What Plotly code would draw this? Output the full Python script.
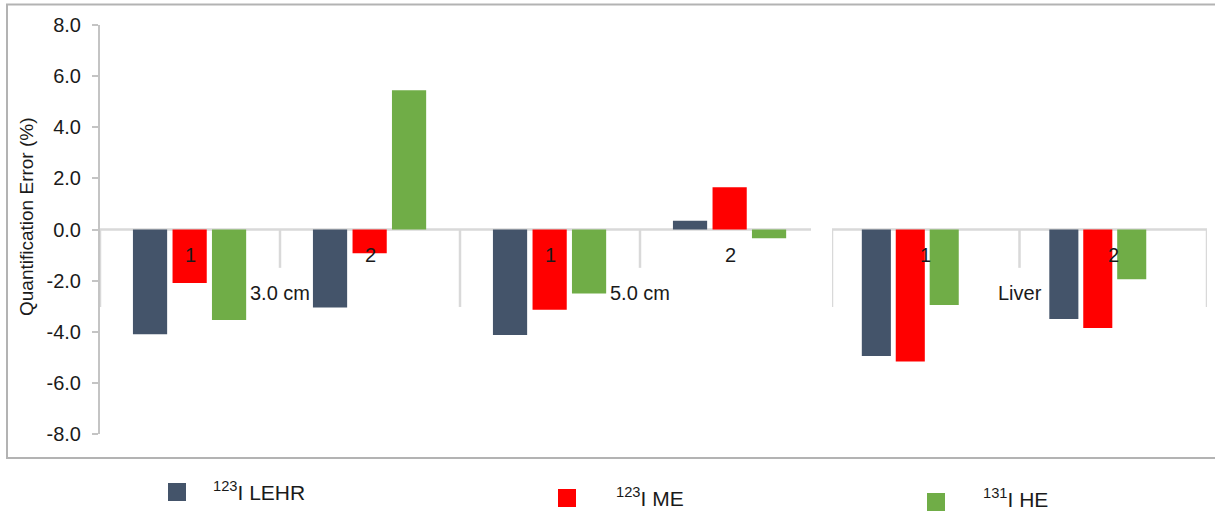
import plotly.graph_objects as go

# ---- data -------------------------------------------------------------
size_groups = ["3.0 cm", "5.0 cm"]          # outer categories on the main axis
size_subs = ["1", "2", "1", "2"]             # inner categories (2 per size group)
liver_group = "Liver"
liver_subs = ["1", "2"]

series_names = ["<sup>123</sup>I LEHR", "<sup>123</sup>I ME", "<sup>131</sup>I HE"]
series_colors = ["#44546A", "#FF0000", "#70AD47"]

# quantification error (%) : 3.0 cm (1,2), 5.0 cm (1,2) | Liver (1,2)
lehr_sizes = [-4.10, -3.05, -4.13, 0.34]
me_sizes = [-2.09, -0.93, -3.14, 1.65]
he_sizes = [-3.54, 5.45, -2.50, -0.34]
lehr_liver = [-4.95, -3.50]
me_liver = [-5.16, -3.85]
he_liver = [-2.95, -1.95]

y_ticks = [-8, -6, -4, -2, 0, 2, 4, 6, 8]
y_ticktext = [f"{v:.1f}" for v in y_ticks]

# ---- figure geometry (pixels) ----------------------------------------
W, H = 1215, 512
FONT = "Liberation Sans, Arial, sans-serif"
TXT = "#1a1a1a"
AXIS_GRAY = "#c4c4c4"
CAT_GRAY = "#d9d9d9"


def px(x):
    return x / W


def py(y):
    return 1 - y / H


fig = go.Figure()

main_x = list(range(len(size_subs)))
liver_x = list(range(len(liver_subs)))

main_vals = [lehr_sizes, me_sizes, he_sizes]
liver_vals = [lehr_liver, me_liver, he_liver]
main_offsets = [-0.317, -0.097, 0.122]
liver_offsets = [-0.341, -0.160, 0.021]

for i in range(3):
    fig.add_trace(go.Bar(
        x=main_x, y=main_vals[i], xaxis="x", yaxis="y",
        width=0.19, offset=main_offsets[i],
        marker=dict(color=series_colors[i], line=dict(width=0)),
        name=series_names[i], showlegend=False,
    ))
    fig.add_trace(go.Bar(
        x=liver_x, y=liver_vals[i], xaxis="x2", yaxis="y",
        width=0.155, offset=liver_offsets[i],
        marker=dict(color=series_colors[i], line=dict(width=0)),
        name=series_names[i], showlegend=False,
    ))

shapes = []
# outer frame
shapes.append(dict(type="rect", xref="paper", yref="paper",
                   x0=px(7), x1=px(1225), y0=py(458), y1=py(4.5),
                   line=dict(color="#b3b3b3", width=2), fillcolor="rgba(0,0,0,0)",
                   layer="below"))
# category axes drawn along y = 0
shapes.append(dict(type="line", xref="x", yref="y", x0=-0.5, x1=3.45, y0=0, y1=0,
                   line=dict(color=CAT_GRAY, width=2.5), layer="below"))
shapes.append(dict(type="line", xref="x2", yref="y", x0=-0.5, x1=1.5, y0=0, y1=0,
                   line=dict(color=CAT_GRAY, width=2.5), layer="below"))
# dividers: short between inner categories, tall between groups
for xv, tall in [(-0.5, True), (0.5, False), (1.5, True), (2.5, False)]:
    shapes.append(dict(type="line", xref="x", yref="y", x0=xv, x1=xv,
                       y0=0, y1=-3.03 if tall else -1.5,
                       line=dict(color=CAT_GRAY, width=2.5), layer="below"))
for xv, tall in [(-0.5, True), (0.5, False), (1.5, True)]:
    shapes.append(dict(type="line", xref="x2", yref="y", x0=xv, x1=xv,
                       y0=0, y1=-3.03 if tall else -1.5,
                       line=dict(color=CAT_GRAY, width=2.5), layer="below"))

annotations = []
lab_font = dict(family=FONT, size=20, color=TXT)
for xi, s in zip(main_x, size_subs):
    annotations.append(dict(x=xi, y=-1.0, xref="x", yref="y", text=s,
                            showarrow=False, font=lab_font))
for gi, g in enumerate(size_groups):
    annotations.append(dict(x=2 * gi + 0.5, y=-2.5, xref="x", yref="y", text=g,
                            showarrow=False, font=lab_font))
for xi, s in zip(liver_x, liver_subs):
    annotations.append(dict(x=xi, y=-1.0, xref="x2", yref="y", text=s,
                            showarrow=False, font=lab_font))
annotations.append(dict(x=0.5, y=-2.5, xref="x2", yref="y", text=liver_group,
                        showarrow=False, font=lab_font))

# y-axis title
annotations.append(dict(x=px(26), y=py(217), xref="paper", yref="paper",
                        xanchor="center", yanchor="middle",
                        text="Quantification Error (%)", textangle=-90,
                        showarrow=False, font=dict(family=FONT, size=19, color=TXT)))

# legend: staggered swatches with labels
legend_pos = [(168, 483, 211, 491), (558, 489, 614, 497), (927, 493, 981, 498)]
for (sx, sy, tx, ty), name, col in zip(legend_pos, series_names, series_colors):
    shapes.append(dict(type="rect", xref="paper", yref="paper",
                       x0=px(sx), x1=px(sx + 18), y0=py(sy + 18), y1=py(sy),
                       fillcolor=col, line=dict(width=0)))
    annotations.append(dict(x=px(tx), y=py(ty), xref="paper", yref="paper",
                            text=name, xanchor="left", yanchor="middle",
                            showarrow=False, font=dict(family=FONT, size=21, color=TXT)))

fig.update_layout(
    width=W, height=H,
    margin=dict(l=0, r=0, t=0, b=0, autoexpand=False),
    paper_bgcolor="white", plot_bgcolor="white",
    barmode="overlay",
    showlegend=False,
    shapes=shapes,
    annotations=annotations,
    xaxis=dict(domain=[px(100), px(820)], range=[-0.5, 3.5], visible=False,
               anchor="y", fixedrange=True, automargin=False),
    xaxis2=dict(domain=[px(832), px(1207)], range=[-0.5, 1.5], visible=False,
                anchor="y", fixedrange=True, automargin=False),
    yaxis=dict(domain=[py(434), py(25)], range=[-8, 8], anchor="x",
               tickvals=y_ticks, ticktext=y_ticktext,
               showgrid=False, zeroline=False, automargin=False,
               showline=True, linecolor=AXIS_GRAY, linewidth=2,
               ticks="outside", ticklen=6, tickwidth=2, tickcolor=AXIS_GRAY,
               ticklabelstandoff=7,
               tickfont=dict(family=FONT, size=20, color=TXT)),
    yaxis2=dict(domain=[py(434), py(25)], range=[-8, 8], anchor="x",
                overlaying="y", side="left", tickvals=y_ticks,
                showticklabels=False, showgrid=False, zeroline=False,
                automargin=False,
                ticks="inside", ticklen=6, tickwidth=2, tickcolor=AXIS_GRAY),
)

fig.write_html("out.html")
